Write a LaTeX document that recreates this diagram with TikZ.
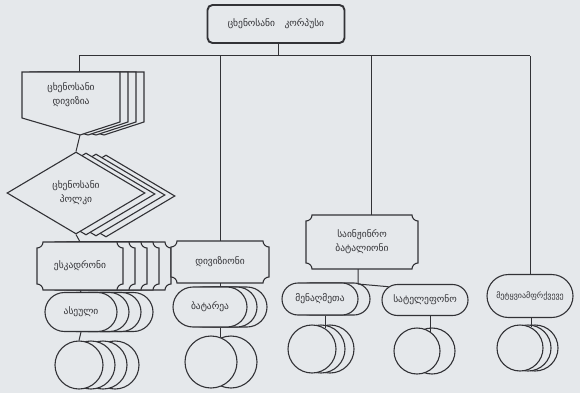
\documentclass[tikz,border=0pt]{standalone}
\usepackage{fontspec}
\newfontfamily\geo{DejaVu Sans}
\usetikzlibrary{shapes.geometric,shapes.misc,positioning}

\definecolor{paper}{RGB}{229,232,235}
\definecolor{ink}{RGB}{50,50,54}

\tikzset{
  pics/ticket/.style n args={2}{code={
    \draw[shp] (-#1+6,#2) -- (#1-6,#2) arc[start angle=180,end angle=270,radius=6]
      -- (#1,-#2+6) arc[start angle=90,end angle=180,radius=6]
      -- (-#1+6,-#2) arc[start angle=0,end angle=90,radius=6]
      -- (-#1,#2-6) arc[start angle=270,end angle=360,radius=6] -- cycle;
  }}
}

\begin{document}
\begin{tikzpicture}[x=1pt,y=1pt,
    shp/.style={draw=ink, line width=1.1pt, fill=paper},
    ln/.style={draw=ink, line width=1pt},
    lbl/.style={font=\geo\fontsize{9.5}{14}\selectfont, text=ink, align=center, inner sep=0pt},
    pill/.style={shp, rounded rectangle, inner sep=0pt},
    ring/.style={shp, circle, inner sep=0pt}
  ]
  \fill[paper] (0,0) rectangle (580,-393);
  \useasboundingbox (0,0) rectangle (580,-393);

  % corps and the bus below it
  \node[lbl, draw=ink, line width=1.9pt, rounded corners=5pt, minimum width=137, minimum height=38] (korp) at (276,-24) {ცხენოსანი\quad კორპუსი};
  \coordinate (bk) at (278,-56);
  \coordinate (b1) at (79,-56);
  \coordinate (b2) at (220,-56);
  \coordinate (b3) at (371,-56);
  \coordinate (b4) at (530,-56);
  \draw[ln] (bk |- korp.south) -- (bk);
  \draw[ln] (b1) -- (b4);

  % division
  \foreach \d in {24,16,8,0}
    \draw[shp, xshift=\d] (22,-72) -- (120,-72) -- (120,-122) -- (80,-135) -- (22,-118) -- cycle;
  \node[lbl, minimum width=98, minimum height=46] (div) at (71,-95) {ცხენოსანი\\დივიზია};
  \coordinate (divtip) at (80,-135);
  \draw[ln] (b1) -- (b1 |- div.north);

  % regiment
  \foreach \d in {3,2,1}
    \node[shp, diamond, minimum width=138, minimum height=82] (pol\d) at ({76+10*\d},{-193-1*\d}) {};
  \node[shp, diamond, minimum width=138, minimum height=82, lbl] (pol) at (76,-193) {ცხენოსანი\\პოლკი};
  \draw[ln] (divtip) -- (pol.north);

  % squadron
  \foreach \d in {4,3,2,1}
    \pic at ({80+12*\d},-266) {ticket={43}{24}};
  \pic at (80,-266) {ticket={43}{24}};
  \node[lbl, minimum width=86, minimum height=48] (esk) at (80,-266) {ესკადრონი};
  \draw[ln] (pol.south) -- (esk.north);

  % company
  \foreach \d in {3,2,1}
    \node[pill, minimum width=72, minimum height=39] (ase\d) at ({81+12*\d},-312) {};
  \node[pill, lbl, minimum width=72, minimum height=39] (ase) at (81,-312) {ასეული};
  \draw[ln] (esk.south) -- (ase.north);
  \foreach \d in {3,2,1}
    \node[ring, minimum size=48] (asec\d) at ({79+12*\d},-365) {};
  \node[ring, minimum size=48] (asec) at (79,-365) {};
  \draw[ln] (ase.south) -- (asec.north);

  % artillery
  \pic at (220,-262) {ticket={49}{21}};
  \node[lbl, minimum width=98, minimum height=42] (dvz) at (220,-262) {დივიზიონი};
  \draw[ln] (b2) -- (dvz.north);
  \foreach \d in {2,1}
    \node[pill, minimum width=74, minimum height=40] (bat\d) at ({210+10*\d},-307) {};
  \node[pill, lbl, minimum width=74, minimum height=40] (bat) at (210,-307) {ბატარეა};
  \draw[ln] (dvz.south) -- (dvz.south |- bat.north);
  \node[ring, minimum size=52] (batc1) at (231,-362) {};
  \node[ring, minimum size=52] (batc) at (211,-362) {};
  \draw[ln] (bat.south -| batc.70) -- (batc.70);

  % engineers
  \pic at (362,-242) {ticket={56}{27}};
  \node[lbl, minimum width=112, minimum height=54] (sain) at (362,-242) {საინჟინრო\\ბატალიონი};
  \draw[ln] (b3) -- (b3 |- sain.north);
  \node[pill, minimum width=76, minimum height=32] (men1) at (332,-299) {};
  \node[pill, lbl, minimum width=76, minimum height=32] (men) at (320,-299) {მენაღმეთა};
  \node[pill, lbl, minimum width=86, minimum height=31] (tel) at (425,-300) {სატელეფონო};
  \coordinate (jn) at (358,-284);
  \draw[ln] (jn |- sain.south) -- (jn) -- (tel.160);
  \foreach \d in {2,1}
    \node[ring, minimum size=48] (menc\d) at ({312+9*\d},-349) {};
  \node[ring, minimum size=48] (menc) at (312,-349) {};
  \draw[ln] (men.south -| menc.57) -- (menc.57);
  \node[ring, minimum size=46] (telc1) at (432,-351) {};
  \node[ring, minimum size=46] (telc) at (417,-351) {};
  \draw[ln] (tel.south -| telc.55) -- (telc.55);

  % machine guns
  \node[pill, lbl, font=\geo\fontsize{8}{10}\selectfont, minimum width=86, minimum height=43] (pul) at (530,-296) {მეტყვიამფრქვევე};
  \draw[ln] (b4) -- (pul.north);
  \foreach \d in {15,8}
    \node[ring, minimum size=46] (pulc\d) at ({520+\d},-348) {};
  \node[ring, minimum size=46] (pulc) at (520,-348) {};
  \draw[ln] (pul.south -| pulc.61) -- (pulc.61);
\end{tikzpicture}
\end{document}
